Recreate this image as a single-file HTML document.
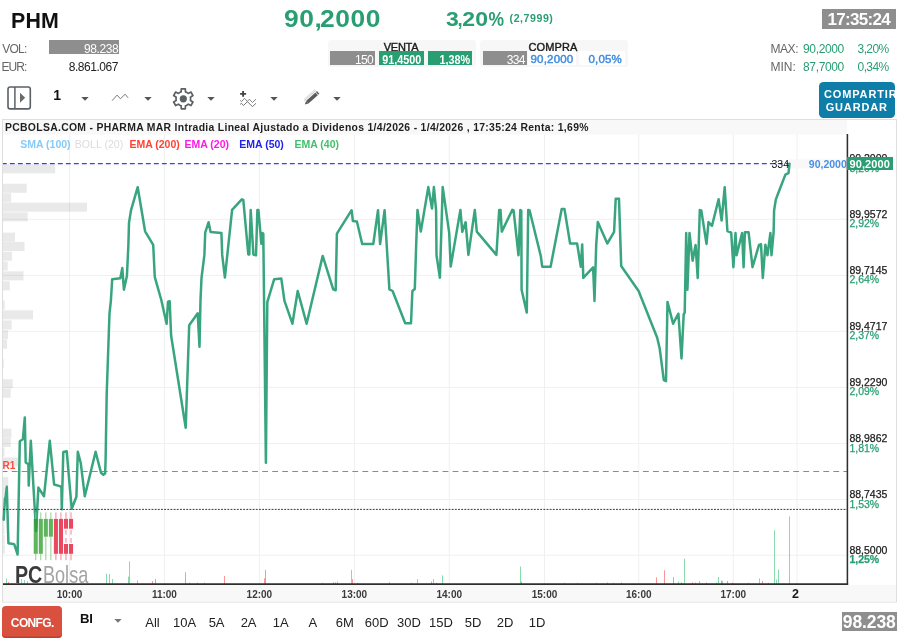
<!DOCTYPE html><html><head><meta charset="utf-8"><title>PHM</title><style>
html,body{margin:0;padding:0;background:#fff;}
body{width:910px;height:643px;position:relative;overflow:hidden;will-change:transform;font-family:"Liberation Sans",sans-serif;color:#222;}
div{position:absolute;white-space:nowrap;line-height:1;}
.yl{left:849.4px;font-size:10.5px;color:#1c1c1c;-webkit-text-stroke:0.25px currentColor;}
.yl.g{color:#289e72;}
.xl{top:590px;width:40px;text-align:center;font-size:10px;font-weight:bold;color:#3a3a3a;}
.rg{top:616.2px;width:32px;text-align:center;font-size:13px;color:#222;}
.lg{top:138.6px;font-size:10.5px;font-weight:bold;}
.lab{font-size:12px;color:#666;}
.gbox{background:#8e8e8e;color:#fff;text-align:right;font-size:12px;}
</style></head><body>
<div style="left:10.8px;top:9.5px;font-size:22.6px;font-weight:bold;color:#111;letter-spacing:0.2px;transform:scaleX(0.945);transform-origin:0 0">PHM</div>
<div style="left:283.9px;top:6.6px;font-size:24px;font-weight:bold;color:#289e72;letter-spacing:0.52px;transform:scaleX(1.1);transform-origin:0 0">90<span style="letter-spacing:-1.6px">,</span>2000</div>
<div style="left:445.8px;top:9.3px;font-size:20px;font-weight:bold;color:#289e72;letter-spacing:0.35px;transform:scaleX(1.15);transform-origin:0 0">3<span style="letter-spacing:-3px;position:relative;left:-1.1px;display:inline-block;transform:scaleX(0.8);transform-origin:0 0">,</span>20<span style="display:inline-block;transform:scaleX(0.76);transform-origin:0 0;letter-spacing:0">%</span></div>
<div style="left:509.6px;top:12.6px;font-size:10.6px;font-weight:bold;color:#289e72;letter-spacing:0.55px">(2,7999)</div>
<div style="left:822px;top:9px;width:73.9px;height:20px;background:#8e8e8e"></div>
<div style="left:822px;top:10.6px;width:73.4px;text-align:center;font-size:17px;font-weight:bold;color:#fff;letter-spacing:-0.7px">17:35:24</div>
<div class="lab" style="left:2.2px;top:42.6px;letter-spacing:-0.75px">VOL:</div>
<div class="gbox" style="left:49px;top:40.3px;width:69.3px;height:13.6px;padding-right:0.6px;line-height:18.4px;overflow:hidden;letter-spacing:-0.42px">98.238</div>
<div class="lab" style="left:1.6px;top:60.7px;letter-spacing:-1px">EUR:</div>
<div style="left:49px;top:60.7px;width:69px;text-align:right;font-size:12px;color:#222;letter-spacing:-0.46px">8.861.067</div>
<div style="left:327.5px;top:40px;width:148.5px;height:27px;background:#f7f7f7;border-radius:3px"></div>
<div style="left:371px;top:42.2px;width:60px;text-align:center;font-size:11px;color:#1a1a1a;letter-spacing:-0.3px;-webkit-text-stroke:0.4px #1a1a1a">VENTA</div>
<div class="gbox" style="left:330.2px;top:51.3px;width:43px;height:13.6px;padding-right:2.2px;line-height:18.4px;overflow:hidden;letter-spacing:-0.6px">150</div>
<div style="left:378.7px;top:51.3px;width:45.1px;height:13.6px;background:#289e72;color:#fff;font-size:12px;font-weight:bold;line-height:18.4px;overflow:hidden;text-align:center"><span style="display:inline-block;transform:scaleX(0.9)">91,4500</span></div>
<div style="left:427.7px;top:51.3px;width:42px;height:13.6px;padding-right:2.6px;background:#289e72;color:#fff;font-size:12px;font-weight:bold;line-height:18.4px;overflow:hidden;text-align:right"><span style="display:inline-block;transform:scaleX(0.9);transform-origin:100% 50%">1,38%</span></div>
<div style="left:479.5px;top:40px;width:148px;height:27px;background:#f7f7f7;border-radius:3px"></div>
<div style="left:523px;top:42.2px;width:60px;text-align:center;font-size:11px;color:#1a1a1a;letter-spacing:0.15px;-webkit-text-stroke:0.4px #1a1a1a">COMPRA</div>
<div class="gbox" style="left:482.5px;top:51.3px;width:42.4px;height:13.6px;padding-right:2.2px;line-height:18.4px;overflow:hidden;letter-spacing:-0.6px">334</div>
<div style="left:528px;top:51.3px;width:48px;height:13.6px;background:#fff;color:#3d8be0;font-size:11.5px;line-height:17.6px;overflow:hidden;text-align:center;-webkit-text-stroke:0.45px #3d8be0;letter-spacing:0.2px">90,2000</div>
<div style="left:579px;top:51.3px;width:43px;height:13.6px;padding-right:2.6px;background:#fff;color:#3d8be0;font-size:11.5px;line-height:17.6px;overflow:hidden;text-align:right;-webkit-text-stroke:0.45px #3d8be0;letter-spacing:0.2px">0,05%</div>
<div class="lab" style="left:770.4px;top:42.6px;letter-spacing:-0.4px">MAX:</div>
<div style="left:803px;top:42.6px;font-size:12px;color:#289e72;letter-spacing:-0.35px">90,2000</div>
<div style="left:840px;top:42.6px;width:48.6px;text-align:right;font-size:12px;color:#289e72;letter-spacing:-0.6px">3,20%</div>
<div class="lab" style="left:770.4px;top:60.7px">MIN:</div>
<div style="left:803px;top:60.7px;font-size:12px;color:#289e72;letter-spacing:-0.35px">87,7000</div>
<div style="left:840px;top:60.7px;width:48.6px;text-align:right;font-size:12px;color:#289e72;letter-spacing:-0.6px">0,34%</div>
<div style="left:819px;top:82px;width:75.5px;height:35.5px;background:#0e7ea8;border-radius:4.5px;overflow:hidden"><div style="left:5px;top:6.8px;font-size:11px;font-weight:bold;color:#fff;letter-spacing:0.85px">COMPARTIR</div><div style="left:0;width:75.5px;text-align:center;top:20.2px;font-size:11px;font-weight:bold;color:#fff;letter-spacing:0.85px">GUARDAR</div></div>
<svg style="position:absolute;left:0;top:80px" width="350" height="36" viewBox="0 80 350 36"><rect x="8" y="87" width="22.3" height="21.9" rx="2.2" fill="none" stroke="#5b6066" stroke-width="1.6"/><line x1="14.9" x2="14.9" y1="87" y2="109" stroke="#5b6066" stroke-width="1.5"/><path d="M20 92.8 L25.2 97.8 L20 102.8 Z" fill="#6a6a6a"/><polyline points="112.1,100.7 117.1,95.1 120.4,98.8 125.1,94.2 128.1,97.8" fill="none" stroke="#6a6a6a" stroke-width="0.9"/><path d="M181.14 91.83 L181.27 88.80 L185.33 88.80 L185.46 91.83 L186.28 92.13 L187.59 92.89 L188.26 93.44 L190.94 92.05 L192.97 95.56 L190.42 97.18 L190.56 98.05 L190.56 99.56 L190.42 100.42 L192.97 102.04 L190.94 105.55 L188.26 104.16 L187.58 104.71 L186.27 105.47 L185.46 105.77 L185.33 108.80 L181.27 108.80 L181.14 105.77 L180.32 105.47 L179.01 104.71 L178.34 104.16 L175.66 105.55 L173.63 102.04 L176.18 100.42 L176.04 99.55 L176.04 98.04 L176.18 97.18 L173.63 95.56 L175.66 92.05 L178.34 93.44 L179.02 92.89 L180.33 92.13 Z" fill="none" stroke="#5b6066" stroke-width="1.7" stroke-linejoin="round"/><circle cx="183.3" cy="98.8" r="3.6" fill="#5b6066"/><path d="M240.1 93.9 H246.1 M243.1 91 V96.8" stroke="#444" stroke-width="1.9" fill="none"/><polyline points="240.1,100.3 241.5,101.6 244.5,98.3 247.4,101.4 249.4,99.2 252.4,102.5 256,99.2" fill="none" stroke="#777" stroke-width="0.9"/><polyline points="240.1,104.4 241.5,103.3 243.5,105.5 247.4,101.6 252.4,106.6 256,103.3" fill="none" stroke="#666" stroke-width="0.9"/><g transform="translate(311.9,98) rotate(-42)"><rect x="-6.3" y="-1.75" width="12.6" height="3.6" fill="#5a5a5a"/><path d="M-6.3 -1.75 L-9.6 0.05 L-6.3 1.85 Z" fill="#5a5a5a"/><rect x="6.9" y="-1.75" width="1.5" height="3.6" fill="#5a5a5a"/><line x1="-7.5" x2="8" y1="-3" y2="-3" stroke="#b0b0b0" stroke-width="0.7"/><line x1="-7" x2="8" y1="-4.3" y2="-4.3" stroke="#cccccc" stroke-width="0.7"/></g></svg>
<div style="left:53.2px;top:87.8px;font-size:14px;font-weight:bold;color:#111">1</div>
<svg style="position:absolute;left:80.5px;top:97px" width="8" height="4" viewBox="0 0 8 4"><path d="M0.3 0 H7.7 L4 3.8 Z" fill="#555"/></svg>
<svg style="position:absolute;left:144px;top:97px" width="8" height="4" viewBox="0 0 8 4"><path d="M0.3 0 H7.7 L4 3.8 Z" fill="#555"/></svg>
<svg style="position:absolute;left:207px;top:97px" width="8" height="4" viewBox="0 0 8 4"><path d="M0.3 0 H7.7 L4 3.8 Z" fill="#555"/></svg>
<svg style="position:absolute;left:270px;top:97px" width="8" height="4" viewBox="0 0 8 4"><path d="M0.3 0 H7.7 L4 3.8 Z" fill="#555"/></svg>
<svg style="position:absolute;left:333px;top:97px" width="8" height="4" viewBox="0 0 8 4"><path d="M0.3 0 H7.7 L4 3.8 Z" fill="#555"/></svg>
<svg id="chart" width="910" height="643" viewBox="0 0 910 643" style="position:absolute;left:0;top:0">
<rect x="2.5" y="119.5" width="894" height="482.5" fill="#fff" stroke="#dedede" stroke-width="1"/>
<rect x="3" y="120" width="844" height="14.6" fill="#f8f8f8"/>
<rect x="3" y="585" width="893" height="16.5" fill="#f8f8f8"/>
<line x1="3" x2="847" y1="219.3" y2="219.3" stroke="#f0f0f0" stroke-width="1"/>
<line x1="3" x2="847" y1="275.4" y2="275.4" stroke="#f0f0f0" stroke-width="1"/>
<line x1="3" x2="847" y1="331.3" y2="331.3" stroke="#f0f0f0" stroke-width="1"/>
<line x1="3" x2="847" y1="387.4" y2="387.4" stroke="#f0f0f0" stroke-width="1"/>
<line x1="3" x2="847" y1="443.6" y2="443.6" stroke="#f0f0f0" stroke-width="1"/>
<line x1="3" x2="847" y1="499.6" y2="499.6" stroke="#f0f0f0" stroke-width="1"/>
<line x1="3" x2="847" y1="555.2" y2="555.2" stroke="#f0f0f0" stroke-width="1"/>
<line x1="69.5" x2="69.5" y1="134.5" y2="584" stroke="#f0f0f0" stroke-width="1"/>
<line x1="164.4" x2="164.4" y1="134.5" y2="584" stroke="#f0f0f0" stroke-width="1"/>
<line x1="259.4" x2="259.4" y1="134.5" y2="584" stroke="#f0f0f0" stroke-width="1"/>
<line x1="354.4" x2="354.4" y1="134.5" y2="584" stroke="#f0f0f0" stroke-width="1"/>
<line x1="449.3" x2="449.3" y1="134.5" y2="584" stroke="#f0f0f0" stroke-width="1"/>
<line x1="544.5" x2="544.5" y1="134.5" y2="584" stroke="#f0f0f0" stroke-width="1"/>
<line x1="638.8" x2="638.8" y1="134.5" y2="584" stroke="#f0f0f0" stroke-width="1"/>
<line x1="733.3" x2="733.3" y1="134.5" y2="584" stroke="#f0f0f0" stroke-width="1"/>
<line x1="797.1" x2="797.1" y1="134.5" y2="584" stroke="#f0f0f0" stroke-width="1"/>
<rect x="3" y="164.3" width="52.2" height="9.1" fill="#000" fill-opacity="0.085"/>
<rect x="3" y="183.7" width="23.8" height="9.1" fill="#000" fill-opacity="0.085"/>
<rect x="3" y="193.2" width="8.2" height="9.1" fill="#000" fill-opacity="0.085"/>
<rect x="3" y="202.6" width="84.0" height="9.1" fill="#000" fill-opacity="0.085"/>
<rect x="3" y="212.3" width="24.7" height="9.1" fill="#000" fill-opacity="0.085"/>
<rect x="3" y="232.6" width="12.0" height="9.1" fill="#000" fill-opacity="0.085"/>
<rect x="3" y="241.9" width="21.5" height="9.1" fill="#000" fill-opacity="0.085"/>
<rect x="3" y="251.7" width="9.0" height="9.1" fill="#000" fill-opacity="0.085"/>
<rect x="3" y="261.5" width="4.7" height="9.1" fill="#000" fill-opacity="0.085"/>
<rect x="3" y="271.3" width="20.5" height="9.1" fill="#000" fill-opacity="0.085"/>
<rect x="3" y="281.3" width="6.8" height="9.1" fill="#000" fill-opacity="0.085"/>
<rect x="3" y="300.4" width="1.7" height="9.1" fill="#000" fill-opacity="0.085"/>
<rect x="3" y="310.3" width="30.0" height="9.1" fill="#000" fill-opacity="0.085"/>
<rect x="3" y="320.4" width="8.7" height="9.1" fill="#000" fill-opacity="0.085"/>
<rect x="3" y="330.2" width="5.0" height="9.1" fill="#000" fill-opacity="0.085"/>
<rect x="3" y="339.7" width="4.0" height="9.1" fill="#000" fill-opacity="0.085"/>
<rect x="3" y="359" width="0.8" height="9.1" fill="#000" fill-opacity="0.085"/>
<rect x="3" y="379.2" width="9.8" height="9.1" fill="#000" fill-opacity="0.085"/>
<rect x="3" y="388.7" width="7.7" height="9.1" fill="#000" fill-opacity="0.085"/>
<rect x="3" y="428.6" width="8.5" height="9.1" fill="#000" fill-opacity="0.085"/>
<rect x="3" y="437.9" width="7.8" height="9.1" fill="#000" fill-opacity="0.085"/>
<rect x="3" y="447.5" width="1.6" height="9.1" fill="#000" fill-opacity="0.085"/>
<rect x="3" y="457.5" width="15.0" height="9.1" fill="#000" fill-opacity="0.085"/>
<rect x="3" y="477" width="5.4" height="9.1" fill="#000" fill-opacity="0.085"/>
<rect x="3" y="486.6" width="3.0" height="9.1" fill="#000" fill-opacity="0.085"/>
<rect x="3" y="496" width="2.0" height="9.1" fill="#000" fill-opacity="0.085"/>
<rect x="3" y="505.8" width="1.6" height="9.1" fill="#000" fill-opacity="0.085"/>
<rect x="3" y="515.5" width="1.2" height="9.1" fill="#000" fill-opacity="0.085"/>
<rect x="3" y="525" width="1.4" height="9.1" fill="#000" fill-opacity="0.085"/>
<rect x="3" y="534.8" width="1.6" height="9.1" fill="#000" fill-opacity="0.085"/>
<rect x="3" y="544.5" width="1.8" height="9.1" fill="#000" fill-opacity="0.085"/>
<rect x="788.5" y="159.3" width="58.5" height="9.2" fill="#f8f8f8"/>
<line x1="6.5" x2="6.5" y1="578.4" y2="584" stroke="#8adaae" stroke-width="1"/>
<line x1="8.5" x2="8.5" y1="582" y2="584" stroke="#f99595" stroke-width="1"/>
<line x1="18.5" x2="18.5" y1="580" y2="584" stroke="#f99595" stroke-width="1"/>
<line x1="21.5" x2="21.5" y1="579" y2="584" stroke="#8adaae" stroke-width="1"/>
<line x1="24.5" x2="24.5" y1="580" y2="584" stroke="#8adaae" stroke-width="1"/>
<line x1="27.5" x2="27.5" y1="581" y2="584" stroke="#8adaae" stroke-width="1"/>
<line x1="106.5" x2="106.5" y1="573.6" y2="584" stroke="#8adaae" stroke-width="1"/>
<line x1="109.5" x2="109.5" y1="574" y2="584" stroke="#8adaae" stroke-width="1"/>
<line x1="112.5" x2="112.5" y1="579" y2="584" stroke="#8adaae" stroke-width="1"/>
<line x1="128.5" x2="128.5" y1="576.6" y2="584" stroke="#8adaae" stroke-width="1"/>
<line x1="129.5" x2="129.5" y1="561.5" y2="584" stroke="#8adaae" stroke-width="1"/>
<line x1="137.5" x2="137.5" y1="580.4" y2="584" stroke="#8adaae" stroke-width="1"/>
<line x1="152.5" x2="152.5" y1="581" y2="584" stroke="#f99595" stroke-width="1"/>
<line x1="155.5" x2="155.5" y1="579" y2="584" stroke="#f99595" stroke-width="1"/>
<line x1="185.5" x2="185.5" y1="572.3" y2="584" stroke="#f99595" stroke-width="1"/>
<line x1="189.5" x2="189.5" y1="582.5" y2="584" stroke="#8adaae" stroke-width="1"/>
<line x1="197.5" x2="197.5" y1="582.5" y2="584" stroke="#8adaae" stroke-width="1"/>
<line x1="204.5" x2="204.5" y1="582.5" y2="584" stroke="#8adaae" stroke-width="1"/>
<line x1="224.5" x2="224.5" y1="576" y2="584" stroke="#f99595" stroke-width="1"/>
<line x1="264.5" x2="264.5" y1="578.4" y2="584" stroke="#f99595" stroke-width="1"/>
<line x1="265.5" x2="265.5" y1="569.8" y2="584" stroke="#f99595" stroke-width="1"/>
<line x1="322.5" x2="322.5" y1="582.8" y2="584" stroke="#8adaae" stroke-width="1"/>
<line x1="333.5" x2="333.5" y1="582.3" y2="584" stroke="#f99595" stroke-width="1"/>
<line x1="335.5" x2="335.5" y1="582.3" y2="584" stroke="#8adaae" stroke-width="1"/>
<line x1="337.5" x2="337.5" y1="581.5" y2="584" stroke="#8adaae" stroke-width="1"/>
<line x1="351.5" x2="351.5" y1="569.8" y2="584" stroke="#8adaae" stroke-width="1"/>
<line x1="352.5" x2="352.5" y1="579.2" y2="584" stroke="#f99595" stroke-width="1"/>
<line x1="357.5" x2="357.5" y1="582.8" y2="584" stroke="#8adaae" stroke-width="1"/>
<line x1="389.5" x2="389.5" y1="582.3" y2="584" stroke="#f99595" stroke-width="1"/>
<line x1="411.5" x2="411.5" y1="582.8" y2="584" stroke="#8adaae" stroke-width="1"/>
<line x1="417.5" x2="417.5" y1="579" y2="584" stroke="#8adaae" stroke-width="1"/>
<line x1="431.5" x2="431.5" y1="581.5" y2="584" stroke="#f99595" stroke-width="1"/>
<line x1="433.5" x2="433.5" y1="579" y2="584" stroke="#8adaae" stroke-width="1"/>
<line x1="436.5" x2="436.5" y1="582.8" y2="584" stroke="#f99595" stroke-width="1"/>
<line x1="442.5" x2="442.5" y1="575.4" y2="584" stroke="#8adaae" stroke-width="1"/>
<line x1="520.5" x2="520.5" y1="566.5" y2="584" stroke="#8adaae" stroke-width="1"/>
<line x1="521.5" x2="521.5" y1="581.5" y2="584" stroke="#f99595" stroke-width="1"/>
<line x1="564.5" x2="564.5" y1="582.8" y2="584" stroke="#8adaae" stroke-width="1"/>
<line x1="577.5" x2="577.5" y1="582.8" y2="584" stroke="#8adaae" stroke-width="1"/>
<line x1="596.5" x2="596.5" y1="582.8" y2="584" stroke="#8adaae" stroke-width="1"/>
<line x1="607.5" x2="607.5" y1="582.5" y2="584" stroke="#f99595" stroke-width="1"/>
<line x1="613.5" x2="613.5" y1="582.8" y2="584" stroke="#8adaae" stroke-width="1"/>
<line x1="621.5" x2="621.5" y1="582.5" y2="584" stroke="#f99595" stroke-width="1"/>
<line x1="656.5" x2="656.5" y1="577.4" y2="584" stroke="#f99595" stroke-width="1"/>
<line x1="664.5" x2="664.5" y1="570.3" y2="584" stroke="#f99595" stroke-width="1"/>
<line x1="673.5" x2="673.5" y1="577.2" y2="584" stroke="#f99595" stroke-width="1"/>
<line x1="678.5" x2="678.5" y1="581.5" y2="584" stroke="#8adaae" stroke-width="1"/>
<line x1="681.5" x2="681.5" y1="582.3" y2="584" stroke="#f99595" stroke-width="1"/>
<line x1="684.5" x2="684.5" y1="558.6" y2="584" stroke="#8adaae" stroke-width="1"/>
<line x1="692.5" x2="692.5" y1="582.3" y2="584" stroke="#f99595" stroke-width="1"/>
<line x1="695.5" x2="695.5" y1="582.5" y2="584" stroke="#8adaae" stroke-width="1"/>
<line x1="699.5" x2="699.5" y1="581" y2="584" stroke="#8adaae" stroke-width="1"/>
<line x1="706.5" x2="706.5" y1="582.5" y2="584" stroke="#f99595" stroke-width="1"/>
<line x1="716.5" x2="716.5" y1="582.5" y2="584" stroke="#8adaae" stroke-width="1"/>
<line x1="718.5" x2="718.5" y1="577" y2="584" stroke="#8adaae" stroke-width="1"/>
<line x1="721.5" x2="721.5" y1="580.5" y2="584" stroke="#f99595" stroke-width="1"/>
<line x1="722.5" x2="722.5" y1="581" y2="584" stroke="#8adaae" stroke-width="1"/>
<line x1="727.5" x2="727.5" y1="581" y2="584" stroke="#f99595" stroke-width="1"/>
<line x1="732.5" x2="732.5" y1="582.5" y2="584" stroke="#f99595" stroke-width="1"/>
<line x1="748.5" x2="748.5" y1="582.8" y2="584" stroke="#8adaae" stroke-width="1"/>
<line x1="759.5" x2="759.5" y1="578.3" y2="584" stroke="#8adaae" stroke-width="1"/>
<line x1="762.5" x2="762.5" y1="581" y2="584" stroke="#f99595" stroke-width="1"/>
<line x1="768.5" x2="768.5" y1="582.8" y2="584" stroke="#8adaae" stroke-width="1"/>
<line x1="774.5" x2="774.5" y1="530.3" y2="584" stroke="#8adaae" stroke-width="1"/>
<line x1="776.5" x2="776.5" y1="579.6" y2="584" stroke="#8adaae" stroke-width="1"/>
<line x1="778.5" x2="778.5" y1="569.5" y2="584" stroke="#8adaae" stroke-width="1"/>
<line x1="789.5" x2="789.5" y1="516.4" y2="584" stroke="#8adaae" stroke-width="1"/>
<line x1="3" x2="789" y1="163.5" y2="163.5" stroke="#3838ff" stroke-width="1.25" stroke-dasharray="4.8,3.2" stroke-dashoffset="1.1"/>
<line x1="3" x2="847" y1="471.5" y2="471.5" stroke="#ff5a50" stroke-width="1.1" stroke-dasharray="5.8,4.22" stroke-dashoffset="1.3"/>
<polyline points="3.7,519.7 5,498.6 5.6,497.4 6.8,486.8 8.4,543.3 13.2,544 14.3,544.4 17.6,554.5 19.6,452.2 19.8,441.2 22.9,439.2 24.8,417.4 25.7,462.5 28.4,464.3 28.7,485.6 30.8,440.8 36,531 38.4,487.6 44,496.3 49.8,440.8 54.1,484.5 60.6,486.4 61.4,488 61.8,509.2 63.3,452 66.7,451.2 71.7,508.8 76.4,496.7 77.8,451.8 80.8,463.3 84.8,496.3 95.6,451.8 101,472.8 103.4,474.8 105.1,473.6 105.6,460.3 106.7,393.9 109.5,313.3 110.9,300.5 112.2,279.2 120.3,278.2 122.3,268.1 123.9,289.7 126.9,276.1 128.4,244.8 129,222.6 131,210.4 137.7,187.2 145.1,231.3 153.2,244.8 154.8,277.2 161.3,300 166.6,323.8 168,301.7 169.7,301.2 171.1,335.5 185.7,427.8 189.2,325.2 197.7,313.3 199.5,346.7 200.5,300 201.5,278.2 204.4,254.9 205.2,232.7 208.6,222.2 210.6,232.1 221.4,232.9 222.2,254.9 224.9,277.6 232.1,209.8 241.8,199.3 243.3,199.9 248.3,254.5 249.3,254.5 250.7,210 253.4,254.5 256,255.3 257.4,210 258.4,210 261.4,243.8 262.5,233.1 263.3,233.5 265.9,462.7 267.3,302.2 274.2,279.2 281.3,278.6 283.1,291.3 284.4,300.7 292.4,323.7 297.7,291 306.6,323.7 322.7,255.9 333.2,289.3 335.7,290.3 336.9,233.7 351.6,210.2 352.9,221 356.9,221.5 362.2,244 373.3,244 378,210.2 380.1,244 384.6,210.2 389.4,289.4 392.6,291 405.2,323.2 411,323.2 412.4,291 414.8,289 416.2,244 417.5,209.9 420.8,231.6 428.3,187.1 432,208.6 433.9,187.1 436.1,210.5 436.5,255.3 439.9,277.7 442.7,187.1 449.2,232.9 450.7,266.5 460.4,209.9 462.3,231.9 465.6,222.2 468.4,254.9 474.8,209.9 476.8,231.6 496.4,254.9 499.2,209.9 500.5,209.9 501.8,231.6 512.3,209.9 513.6,210.5 518.5,255.3 520.3,210 521.3,210.5 521.6,289.7 526.8,312.6 528.2,210 529.6,210.5 540.8,256.1 542.2,266.7 550.6,266.7 561.7,209.1 564.5,209.1 570.1,243.5 577.1,243.5 580.8,266.7 582.2,244.4 583.3,277.9 593.1,267.3 594.5,300.9 596.2,244.9 597.8,222 607.3,243.5 614.1,231.8 615.7,198.8 619,198.8 621.2,266 638.6,291 657.2,337.7 659.7,348.5 663.8,380.2 666,381.2 667.5,301.9 673.1,323.7 678.4,313.7 681.5,358.5 683.7,314.3 684.7,312.8 686.2,233 687.4,289.7 689.5,233 692.6,260.7 695.6,245 697.7,278 699.8,210.1 701.3,210.5 706.5,243.9 708.5,222.1 712,225.8 718.6,199.2 721.6,220.6 724.7,187.2 727.4,231 731.2,232.7 733.4,267.2 735.5,233 736.6,255.2 742.1,233 743.6,267.2 744.9,232.3 748.6,232.3 752.5,267.2 759,244.9 761,244.3 762.8,278 765.4,244.7 767.5,255.2 770.4,233 771.5,255.2 773.6,232.3 774.1,210.5 775.8,199.6 778,193.8 785.4,174.6 788.5,173.2 789.5,163.7" fill="none" stroke="#39a57f" stroke-width="2.5" stroke-linejoin="round" stroke-linecap="round"/>
<line x1="35.75" x2="35.75" y1="512.4" y2="518.9" stroke="#84c884" stroke-width="0.9"/>
<line x1="35.75" x2="35.75" y1="553.8" y2="560.2" stroke="#84c884" stroke-width="0.9"/>
<line x1="40.79" x2="40.79" y1="512.4" y2="518.9" stroke="#84c884" stroke-width="0.9"/>
<line x1="40.79" x2="40.79" y1="553.8" y2="560.2" stroke="#84c884" stroke-width="0.9"/>
<line x1="45.83" x2="45.83" y1="512.4" y2="518.9" stroke="#84c884" stroke-width="0.9"/>
<line x1="45.83" x2="45.83" y1="536.7" y2="560.2" stroke="#84c884" stroke-width="0.9"/>
<line x1="50.87" x2="50.87" y1="512.4" y2="518.9" stroke="#84c884" stroke-width="0.9"/>
<line x1="50.87" x2="50.87" y1="536.7" y2="560.2" stroke="#84c884" stroke-width="0.9"/>
<line x1="55.91" x2="55.91" y1="512.4" y2="518.9" stroke="#ef7b8b" stroke-width="0.9"/>
<line x1="55.91" x2="55.91" y1="553.8" y2="560.2" stroke="#ef7b8b" stroke-width="0.9"/>
<line x1="60.95" x2="60.95" y1="512.4" y2="518.9" stroke="#ef7b8b" stroke-width="0.9"/>
<line x1="60.95" x2="60.95" y1="553.8" y2="560.2" stroke="#ef7b8b" stroke-width="0.9"/>
<line x1="65.99" x2="65.99" y1="512.4" y2="518.9" stroke="#ef7b8b" stroke-width="0.9"/>
<line x1="65.99" x2="65.99" y1="553.8" y2="560.2" stroke="#ef7b8b" stroke-width="0.9"/>
<line x1="65.99" x2="65.99" y1="529.8" y2="534.6" stroke="#ef7b8b" stroke-width="0.9"/>
<line x1="65.99" x2="65.99" y1="538" y2="542.8" stroke="#ef7b8b" stroke-width="0.9"/>
<line x1="71.03" x2="71.03" y1="512.4" y2="518.9" stroke="#ef7b8b" stroke-width="0.9"/>
<line x1="71.03" x2="71.03" y1="553.8" y2="560.2" stroke="#ef7b8b" stroke-width="0.9"/>
<line x1="71.03" x2="71.03" y1="529.8" y2="534.6" stroke="#ef7b8b" stroke-width="0.9"/>
<line x1="71.03" x2="71.03" y1="538" y2="542.8" stroke="#ef7b8b" stroke-width="0.9"/>
<rect x="33.73" y="518.9" width="4.05" height="34.9" fill="#4cad4c" fill-opacity="0.9"/>
<rect x="38.77" y="518.9" width="4.05" height="34.9" fill="#4cad4c" fill-opacity="0.9"/>
<rect x="43.81" y="518.9" width="4.05" height="17.8" fill="#4cad4c" fill-opacity="0.9"/>
<rect x="48.85" y="518.9" width="4.05" height="17.8" fill="#4cad4c" fill-opacity="0.9"/>
<rect x="53.89" y="518.9" width="4.05" height="34.9" fill="#e8334f" fill-opacity="0.9"/>
<rect x="58.93" y="518.9" width="4.05" height="34.9" fill="#e8334f" fill-opacity="0.9"/>
<rect x="63.97" y="518.9" width="4.05" height="9.8" fill="#e8334f" fill-opacity="0.9"/>
<rect x="63.97" y="544.0" width="4.05" height="9.8" fill="#e8334f" fill-opacity="0.9"/>
<rect x="69.01" y="518.9" width="4.05" height="9.8" fill="#e8334f" fill-opacity="0.9"/>
<rect x="69.01" y="544.0" width="4.05" height="9.8" fill="#e8334f" fill-opacity="0.9"/>
<line x1="3" x2="847" y1="509.4" y2="509.4" stroke="#3a3a3a" stroke-width="1" stroke-dasharray="1.9,1.26"/>
<clipPath id="c1"><rect x="33.7" y="518.9" width="4.2" height="20"/></clipPath>
<polyline points="30.8,440.8 36,531 38.4,487.6" fill="none" stroke="#2f9f40" stroke-width="2.55" stroke-linejoin="round" clip-path="url(#c1)"/>
<line x1="3" x2="848.15" y1="584.1" y2="584.1" stroke="#2e2e2e" stroke-width="1.55"/>
<line x1="847.4" x2="847.4" y1="134" y2="584.85" stroke="#2e2e2e" stroke-width="1.55"/>
</svg>
<div style="left:5px;top:122.6px;font-size:10.4px;font-weight:bold;color:#1f1f1f;letter-spacing:0.31px">PCBOLSA.COM - PHARMA MAR Intradia Lineal Ajustado a Dividenos 1/4/2026 - 1/4/2026 , 17:35:24 Renta: 1,69%</div>
<div class="lg" style="left:20.2px;color:#86cbf7">SMA (100)</div>
<div class="lg" style="left:74.8px;color:#dcdcdc;font-weight:normal;font-size:10.6px">BOLL (20)</div>
<div class="lg" style="left:129.4px;color:#ff4136">EMA (200)</div>
<div class="lg" style="left:184.5px;color:#ff19e6">EMA (20)</div>
<div class="lg" style="left:239.3px;color:#2222ee">EMA (50)</div>
<div class="lg" style="left:294.5px;color:#43c06d">EMA (40)</div>
<div style="left:2.5px;top:461px;font-size:10px;font-weight:bold;color:#ff4a3d">R1</div>
<div style="left:771.5px;top:158.7px;font-size:10.5px;color:#111">334</div>
<div style="left:808.8px;top:158.8px;font-size:10.5px;font-weight:bold;color:#4a90e2">90,2000</div>
<div class="yl" style="top:208.7px">89,9572</div>
<div class="yl g" style="top:218.2px">2,92%</div>
<div class="yl" style="top:264.8px">89,7145</div>
<div class="yl g" style="top:274.3px">2,64%</div>
<div class="yl" style="top:320.7px">89,4717</div>
<div class="yl g" style="top:330.2px">2,37%</div>
<div class="yl" style="top:376.8px">89,2290</div>
<div class="yl g" style="top:386.3px">2,09%</div>
<div class="yl" style="top:433.0px">88,9862</div>
<div class="yl g" style="top:442.5px">1,81%</div>
<div class="yl" style="top:489.0px">88,7435</div>
<div class="yl g" style="top:498.5px">1,53%</div>
<div class="yl" style="top:544.6px">88,5000</div>
<div class="yl g" style="top:554.1px;font-weight:bold">1,25%</div>
<div class="yl" style="top:153.0px">90,2000</div>
<div class="yl g" style="top:162.5px">3,20%</div>
<div style="left:846.8px;top:157px;width:45.8px;height:13.4px;background:#289e72"></div>
<div style="left:849.5px;top:158.6px;font-size:11px;font-weight:bold;color:#fff;letter-spacing:0.1px">90,2000</div>
<div class="xl" style="left:49.5px">10:00</div>
<div class="xl" style="left:144.4px">11:00</div>
<div class="xl" style="left:239.4px">12:00</div>
<div class="xl" style="left:334.4px">13:00</div>
<div class="xl" style="left:429.3px">14:00</div>
<div class="xl" style="left:524.5px">15:00</div>
<div class="xl" style="left:618.8px">16:00</div>
<div class="xl" style="left:713.3px">17:00</div>
<div style="left:791.9px;top:588.3px;font-size:12.5px;font-weight:bold;color:#1a1a1a">2</div>
<div style="left:15.4px;top:563.4px;font-size:24.6px;font-weight:bold;color:#3a3a3a;transform:scaleX(0.8);transform-origin:0 0">PC</div>
<div style="left:43.4px;top:563.4px;font-size:24.6px;color:#a3a3a3;transform:scaleX(0.735);transform-origin:0 0">Bolsa</div>
<div style="left:2.1px;top:606px;width:59.9px;height:31.5px;background:#d9513e;border-radius:4px;box-shadow:inset 0 -1.5px 0 #b93f2f"></div>
<div style="left:2.5px;top:617.3px;width:59.5px;text-align:center;font-size:12px;font-weight:bold;color:#fff;letter-spacing:-0.65px">CONFG.</div>
<div style="left:80px;top:612.4px;font-size:13.2px;font-weight:bold;color:#111;letter-spacing:-0.3px">BI</div>
<svg style="position:absolute;left:113.8px;top:619px" width="8" height="4" viewBox="0 0 8 4"><path d="M0.3 0 H7.7 L4 3.8 Z" fill="#777"/></svg>
<div class="rg" style="left:136.5px">All</div>
<div class="rg" style="left:168.6px">10A</div>
<div class="rg" style="left:200.6px">5A</div>
<div class="rg" style="left:232.6px">2A</div>
<div class="rg" style="left:264.7px">1A</div>
<div class="rg" style="left:296.8px">A</div>
<div class="rg" style="left:328.8px">6M</div>
<div class="rg" style="left:360.8px">60D</div>
<div class="rg" style="left:392.9px">30D</div>
<div class="rg" style="left:424.9px">15D</div>
<div class="rg" style="left:457.0px">5D</div>
<div class="rg" style="left:489.0px">2D</div>
<div class="rg" style="left:521.1px">1D</div>
<div style="left:841.7px;top:612px;width:55.2px;height:18.5px;background:#8e8e8e"></div>
<div style="left:841.7px;top:613.6px;width:55.2px;text-align:center;font-size:17.5px;font-weight:bold;color:#fff;letter-spacing:-0.1px">98.238</div>
</body></html>
